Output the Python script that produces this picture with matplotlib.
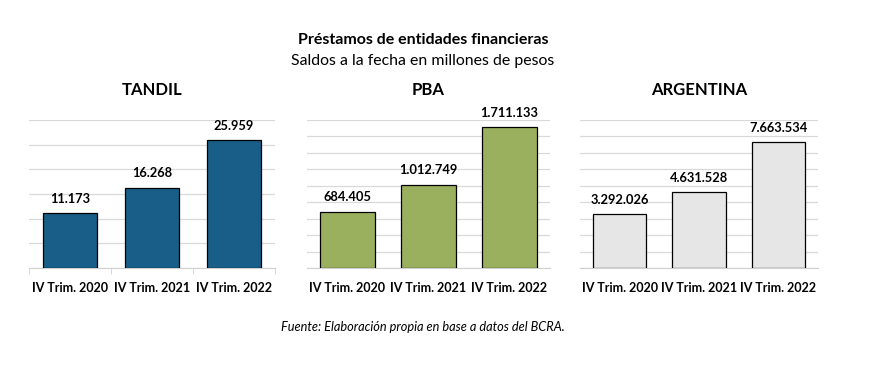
import matplotlib
matplotlib.use("Agg")
import matplotlib.pyplot as plt
import numpy as np

plt.rcParams['font.family'] = ['Lato', 'DejaVu Sans']

# Datos
periodos = ["IV Trim. 2020", "IV Trim. 2021", "IV Trim. 2022"]
tandil = [11173, 16268, 25959]
pba = [684405, 1012749, 1711133]
argentina = [3292026, 4631528, 7663534]

paneles = ["TANDIL", "PBA", "ARGENTINA"]
colores = ["#185E88", "#9BB05E", "#E6E6E6"]
limites = [(30000, 5000), (1800000, 200000), (9000000, 1000000)]
posiciones = [(29, 275), (307, 550), (580, 818)]


def miles(v):
    return f"{v:,}".replace(",", ".")


W, H = 877, 369
fig = plt.figure(figsize=(W / 100, H / 100), dpi=100)

for nombre, valores, color, (ymax, paso), (x0, x1) in zip(
        paneles, [tandil, pba, argentina], colores, limites, posiciones):
    ax = fig.add_axes([x0 / W, 1 - 268 / H, (x1 - x0) / W, 148 / H])
    x = np.arange(len(periodos))
    barras = ax.bar(x, valores, width=0.67, color=color, edgecolor="black",
                    linewidth=0.9, zorder=3)
    ax.set_xlim(-0.5, 2.5)
    ax.set_ylim(0, ymax)
    ax.set_yticks(np.arange(0, ymax + 1, paso))
    ax.yaxis.grid(True, color="#D9D9D9", linewidth=0.9, zorder=0)
    ax.tick_params(axis="y", left=False, labelleft=False)
    for s in ["top", "right", "left"]:
        ax.spines[s].set_visible(False)
    ax.spines["bottom"].set_color("#D0D0D0")
    ax.spines["bottom"].set_zorder(1)
    ax.set_xticks(x)
    ax.set_xticklabels(periodos, fontsize=9, fontweight="bold")
    ax.tick_params(axis="x", length=0, pad=10)
    if nombre == "TANDIL":
        ax.set_xticks([-0.5, 0.5, 1.5, 2.5], minor=True)
        ax.tick_params(axis="x", which="minor", length=4, color="#D0D0D0")
    ax.set_title(nombre, fontsize=12, fontweight="bold", pad=18)
    for b, v in zip(barras, valores):
        ax.annotate(miles(v), (b.get_x() + b.get_width() / 2, v),
                    xytext=(0, 6), textcoords="offset points",
                    ha="center", va="bottom", fontsize=9.3, fontweight="bold")

cx = 423 / W
fig.text(cx, 1 - 40 / H, "Préstamos de entidades financieras", ha="center",
         va="center", fontsize=11.5, fontweight="bold")
fig.text(cx, 1 - 61 / H, "Saldos a la fecha en millones de pesos", ha="center",
         va="center", fontsize=11.4)
fig.text(cx, 1 - 327 / H, "Fuente: Elaboración propia en base a datos del BCRA.",
         ha="center", va="center", fontsize=9.2, style="italic")

fig.savefig("out.png", dpi=100, facecolor="white")
